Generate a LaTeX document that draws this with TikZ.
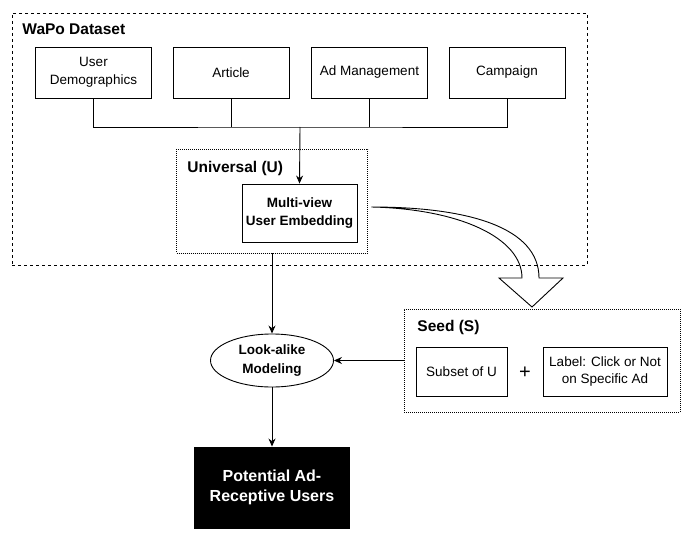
\documentclass[tikz,border=0pt]{standalone}
\usepackage{fontspec}
\setmainfont{Liberation Sans}
\usetikzlibrary{positioning}
\usetikzlibrary{shapes.geometric}
\usetikzlibrary{arrows.meta}
\usetikzlibrary{calc}

\begin{document}
\begin{tikzpicture}[
  x=1pt, y=-1pt,
  font=\fontsize{13.5}{17.5}\selectfont,
  line width=0.9pt,
  bigbox/.style={draw, dash pattern=on 3pt off 3pt, minimum width=575pt, minimum height=252pt},
  groupbox/.style={draw, line width=0.8pt, dash pattern=on 1pt off 1pt},
  sbox/.style={draw, align=center, minimum width=116pt, minimum height=51pt, inner sep=0pt},
  grouplabel/.style={anchor=west, inner sep=0pt, font=\fontsize{15.5}{18}\selectfont\bfseries},
  boldtext/.style={font=\fontsize{13.5}{18.5}\selectfont\bfseries},
  arrow/.style={-{Stealth[length=8pt, width=7pt]}}
]
\useasboundingbox (0,0) rectangle (692,540);

% Outer frame
\node[bigbox] (frame) at (299.5,139) {};
\node[grouplabel] (wapolabel) at (22,29) {WaPo Dataset};

% Data sources
\node[sbox] (demo)     at (93.5,72.5)  {User\\Demographics};
\node[sbox] (article)  at (231,72.5)   {Article};
\node[sbox] (admgmt)   at (369.5,72.5) {Ad Management};
\node[sbox] (campaign) at (507,72.5)   {Campaign};

% Bus into the embedding
\coordinate (bus) at (300,127);
\draw (demo.south) |- (bus) -| (campaign.south);
\draw (article.south) -- (article.south |- bus);
\draw (admgmt.south) -- (admgmt.south |- bus);

% Universal set
\node[groupbox, minimum width=191pt, minimum height=104pt] (universal) at (272,201) {};
\node[grouplabel] (ulabel) at (187,168) {Universal (U)};
\node[sbox, boldtext, minimum width=115pt, minimum height=58pt] (embed) at (299.5,213)
{Multi-view\\User Embedding};
\draw[arrow] (bus) -- (embed.north);

% Modeling and output
\node[ellipse, draw, boldtext, align=center, inner sep=0pt, minimum width=123pt, minimum height=53pt] (model) at (272,360.5)
{Look-alike\\Modeling};
\node[draw, fill=black, text=white, align=center, minimum width=155pt, minimum height=81pt,
  font=\fontsize{16}{20}\selectfont\bfseries] (users) at (272,487.5)
{Potential Ad-\\Receptive Users};

\draw[arrow] (universal.south) -- (model.north);
\draw[arrow] (model) -- (users);

% Seed set
\node[groupbox, minimum width=276pt, minimum height=103pt] (seed) at (542,360.5) {};
\node[grouplabel] (slabel) at (417,327) {Seed (S)};
\node[sbox, minimum width=91pt, minimum height=49pt] (subset) at (461.5,371.5) {Subset of U};
\node[font=\fontsize{20}{20}\selectfont] (plus) at (525,373) {+};
\node[sbox, minimum width=124pt, minimum height=49pt] (clicklabel) at (605,371.5)
{Label: Click or Not\\on Specific Ad};

\draw[arrow] (seed.west) -- (model.east);

% Hollow curved arrow from U to S
\coordinate (flexstart) at ($(embed.east)+(14,-6)$);
\coordinate (fliptip) at (532,307);
\draw (flexstart) .. controls (470,207) and (539,228) .. (539,278) -- (563,278) -- (fliptip)
  -- (499,278) -- (522,278) .. controls (522,238) and (460,209) .. (flexstart);

\end{tikzpicture}
\end{document}
